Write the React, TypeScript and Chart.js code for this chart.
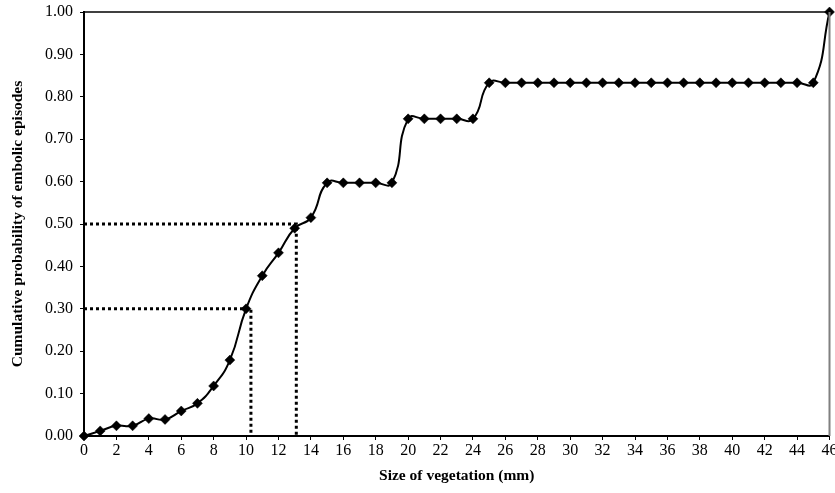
import React, { useEffect, useRef } from "react";
import { Chart, registerables } from "chart.js";

Chart.register(...registerables);

const sizes: number[] = Array.from({ length: 47 }, (_, i) => i);
const probabilities: number[] = [
  0, 0.012, 0.024, 0.024, 0.041, 0.039, 0.059, 0.077, 0.118, 0.179,
  0.3, 0.378, 0.432, 0.49, 0.515, 0.597, 0.597, 0.597, 0.597, 0.597,
  0.748, 0.748, 0.748, 0.748, 0.748,
  0.833, 0.833, 0.833, 0.833, 0.833, 0.833, 0.833, 0.833, 0.833, 0.833,
  0.833, 0.833, 0.833, 0.833, 0.833, 0.833, 0.833, 0.833, 0.833, 0.833,
  0.833,
  1.0,
];
const guide50X: number[] = [0, 13.1, 13.1];
const guide50Y: number[] = [0.5, 0.5, 0];
const guide30X: number[] = [0, 10.3, 10.3];
const guide30Y: number[] = [0.3, 0.3, 0];

const xTitle = "Size of vegetation (mm)";
const yTitle = "Cumulative probability of embolic episodes";

const FONT = "'Liberation Serif', 'Times New Roman', serif";

const framePlugin = {
  id: "frame",
  afterDatasetsDraw(chart: any) {
    const { ctx, chartArea } = chart;
    ctx.save();
    ctx.lineWidth = 1.5;
    ctx.strokeStyle = "#000";
    ctx.beginPath();
    ctx.moveTo(chartArea.left, chartArea.top);
    ctx.lineTo(chartArea.right, chartArea.top);
    ctx.stroke();
    ctx.strokeStyle = "#808080";
    ctx.lineWidth = 2;
    ctx.beginPath();
    ctx.moveTo(chartArea.right, chartArea.top);
    ctx.lineTo(chartArea.right, chartArea.bottom);
    ctx.stroke();
    ctx.restore();
  },
};

export default function App() {
  const ref = useRef<HTMLCanvasElement | null>(null);
  useEffect(() => {
    if (!ref.current) return;
    const toPts = (xs: number[], ys: number[]) => xs.map((x, i) => ({ x, y: ys[i] }));
    const guideStyle = {
      borderColor: "#000",
      borderWidth: 3,
      borderDash: [3, 3],
      pointRadius: 0,
      tension: 0,
      fill: false,
    };
    const chart = new Chart(ref.current, {
      type: "line",
      data: {
        datasets: [
          { ...guideStyle, data: toPts(guide50X, guide50Y) },
          { ...guideStyle, data: toPts(guide30X, guide30Y) },
          {
            data: toPts(sizes, probabilities),
            borderColor: "#000",
            borderWidth: 2,
            tension: 0.5,
            pointStyle: "rectRot",
            pointRadius: 5,
            pointBackgroundColor: "#000",
            pointBorderColor: "#000",
            pointBorderWidth: 0.5,
            clip: false,
            fill: false,
          } as any,
        ],
      },
      options: {
        responsive: false,
        animation: false,
        layout: { padding: { top: 12, right: 3, left: 0, bottom: 0 } },
        plugins: {
          legend: { display: false },
          tooltip: { enabled: false },
        },
        scales: {
          x: {
            type: "linear",
            min: 0,
            max: 46,
            grid: {
              display: true,
              drawOnChartArea: false,
              drawTicks: true,
              tickLength: 4,
              color: "#000",
            },
            border: { display: true, color: "#000", width: 2 },
            ticks: {
              stepSize: 2,
              color: "#000",
              padding: 1,
              maxRotation: 0,
              autoSkip: false,
              font: { family: FONT, size: 16 },
            },
            title: {
              display: true,
              text: xTitle,
              color: "#000",
              font: { family: FONT, size: 15.5, weight: "bold" },
              padding: { top: 4, bottom: 8 },
            },
            afterFit(scale: any) {
              scale.height = 57;
              scale.paddingRight = 0;
              scale.paddingLeft = 0;
            },
          },
          y: {
            min: 0,
            max: 1,
            grid: {
              display: true,
              drawOnChartArea: false,
              drawTicks: true,
              tickLength: 4,
              color: "#000",
            },
            border: { display: true, color: "#000", width: 2 },
            ticks: {
              stepSize: 0.1,
              color: "#000",
              padding: 7,
              font: { family: FONT, size: 16 },
              callback: (v: any) => Number(v).toFixed(2),
            },
            title: {
              display: true,
              text: yTitle,
              color: "#000",
              font: { family: FONT, size: 15.5, weight: "bold" },
              padding: { top: 9, bottom: 4 },
            },
            afterFit(scale: any) {
              scale.width = 84;
              scale.paddingTop = 0;
            },
          },
        },
      },
      plugins: [framePlugin],
    });
    return () => chart.destroy();
  }, []);
  return (
    <div style={{ position: "absolute", left: 0, top: 0, width: 835, height: 493, overflow: "hidden", background: "#fff" }}>
      <canvas ref={ref} width={835} height={493} style={{ display: "block" }} />
    </div>
  );
}
